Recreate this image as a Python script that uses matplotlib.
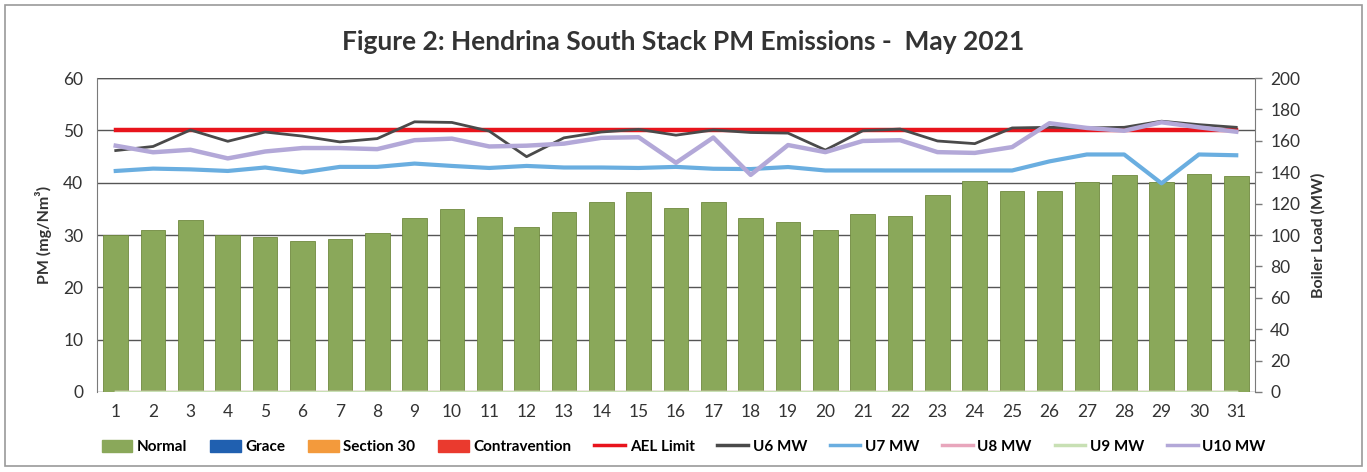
import matplotlib
matplotlib.use("Agg")
import matplotlib.pyplot as plt
from matplotlib.patches import Patch, Rectangle
from matplotlib.lines import Line2D

plt.rcParams['font.family'] = ['Lato', 'DejaVu Sans']

days = list(range(1, 32))
normal = [30.0, 31.0, 32.9, 30.0, 29.6, 28.9, 29.2, 30.4, 33.2, 35.0,
          33.4, 31.6, 34.4, 36.3, 38.2, 35.1, 36.4, 33.2, 32.5, 31.0,
          34.0, 33.7, 37.6, 40.4, 38.5, 38.5, 40.1, 41.4, 40.1, 41.6, 41.3]
grace = [0] * 31
section30 = [0] * 31
contravention = [0] * 31
ael_limit = [50] * 31
u6_mw = [153.8, 156.4, 166.9, 159.7, 165.6, 163.0, 159.3, 161.4, 172.1, 171.7,
         166.2, 149.9, 161.9, 165.6, 167.3, 163.6, 166.9, 165.3, 164.9, 154.1,
         166.4, 167.5, 159.9, 158.2, 168.2, 168.6, 168.2, 168.6, 172.5, 170.3, 168.6]
u7_mw = [140.8, 142.3, 141.8, 140.8, 143.0, 139.9, 143.4, 143.4, 145.5, 144.0,
         142.7, 144.0, 143.0, 143.0, 142.7, 143.4, 142.2, 142.0, 143.3, 141.1,
         141.1, 141.1, 141.1, 141.1, 141.1, 146.9, 151.3, 151.3, 132.9, 151.3, 150.8]
u8_mw = [0] * 31
u9_mw = [0] * 31
u10_mw = [156.9, 152.7, 154.3, 148.8, 153.2, 155.4, 155.4, 154.7, 160.4, 161.4,
          156.4, 156.9, 158.2, 161.9, 162.3, 146.0, 162.1, 138.3, 157.3, 152.8,
          159.9, 160.4, 152.8, 152.3, 156.0, 171.2, 168.2, 166.4, 171.8, 168.6, 165.8]

c_normal = '#8aa85a'
c_grace = '#2060b0'
c_s30 = '#f39a3c'
c_contra = '#ea3a2e'
c_ael = '#e8141c'
c_u6 = '#4a4a4a'
c_u7 = '#6aaee0'
c_u8 = '#e8a6bc'
c_u9 = '#c8e0b4'
c_u10 = '#b3a8d8'

fig = plt.figure(figsize=(13.67, 4.72), dpi=100)
ax = fig.add_axes([0.071, 0.1695, 0.847, 0.6652])
ax2 = ax.twinx()

ax.set_zorder(1)
ax2.set_zorder(2)
ax2.patch.set_visible(False)

w = 0.66
ax.bar(days, normal, width=w, color=c_normal, edgecolor='#70893f', linewidth=0.6, zorder=2)
ax.bar(days, grace, width=w, bottom=normal, color=c_grace, zorder=2)
ax.bar(days, section30, width=w, bottom=normal, color=c_s30, zorder=2)
ax.bar(days, contravention, width=w, bottom=normal, color=c_contra, zorder=2)
ax.plot(days, ael_limit, color=c_ael, lw=3.2, zorder=3)

ax2.plot(days, u6_mw, color=c_u6, lw=2.0)
ax2.plot(days, u7_mw, color=c_u7, lw=3.0)
ax2.plot(days, u8_mw, color=c_u8, lw=2.5)
ax2.plot(days, u9_mw, color=c_u9, lw=2.5)
ax2.plot(days, u10_mw, color=c_u10, lw=3.2)

ax.set_xlim(0.5, 31.5)
ax.set_ylim(0, 60)
ax2.set_ylim(0, 200)
ax.set_yticks(range(0, 61, 10))
ax2.set_yticks(range(0, 201, 20))
ax.set_xticks(days)
ax.set_xticklabels([str(d) for d in days])

ax.grid(axis='y', color='#555555', lw=1.0, zorder=0)
ax.set_axisbelow(True)
for s in ['top', 'right']:
    ax.spines[s].set_visible(False)
for s in ['top', 'left', 'bottom']:
    ax2.spines[s].set_visible(False)
ax.spines['left'].set_color('#7a7a7a')
ax.spines['bottom'].set_visible(False)
ax2.spines['right'].set_color('#7a7a7a')
ax.axhline(60, color='#555555', lw=1.0, zorder=0)

ax.tick_params(axis='both', length=0, labelsize=12.5, colors='#333333')
ax.tick_params(axis='x', pad=9)
ax.tick_params(axis='y', pad=10)
ax2.tick_params(axis='y', length=5, width=1, color='#7a7a7a', labelsize=12.5, labelcolor='#333333', pad=6)

ax.set_ylabel('PM (mg/Nm³)', fontsize=11.5, fontweight='bold', color='#333333', labelpad=8)
ax2.set_ylabel('Boiler Load (MW)', fontsize=11.5, fontweight='bold', color='#333333', labelpad=8)

fig.text(0.5, 0.91, 'Figure 2: Hendrina South Stack PM Emissions -  May 2021',
         ha='center', va='center', fontsize=19, fontweight='bold', color='#333333')

handles = [
    Patch(facecolor=c_normal, edgecolor=c_normal),
    Patch(facecolor=c_grace, edgecolor=c_grace),
    Patch(facecolor=c_s30, edgecolor=c_s30),
    Patch(facecolor=c_contra, edgecolor=c_contra),
    Line2D([0], [0], color=c_ael, lw=2.5),
    Line2D([0], [0], color=c_u6, lw=2.5),
    Line2D([0], [0], color=c_u7, lw=2.5),
    Line2D([0], [0], color=c_u8, lw=2.5),
    Line2D([0], [0], color=c_u9, lw=2.5),
    Line2D([0], [0], color=c_u10, lw=2.5),
]
labels = ['Normal', 'Grace', 'Section 30', 'Contravention', 'AEL Limit',
          'U6 MW', 'U7 MW', 'U8 MW', 'U9 MW', 'U10 MW']
fig.legend(handles, labels, loc='center', bbox_to_anchor=(0.5, 0.053), ncol=10,
           frameon=False, handlelength=2.0, handleheight=0.9,
           handletextpad=0.3, columnspacing=1.5,
           prop={'weight': 'bold', 'size': 11})

fig.patches.append(Rectangle((0.004, 0.012), 0.992, 0.978, transform=fig.transFigure,
                             fill=False, edgecolor='#9a9a9a', lw=1.2))

fig.savefig('out.png', dpi=100)
